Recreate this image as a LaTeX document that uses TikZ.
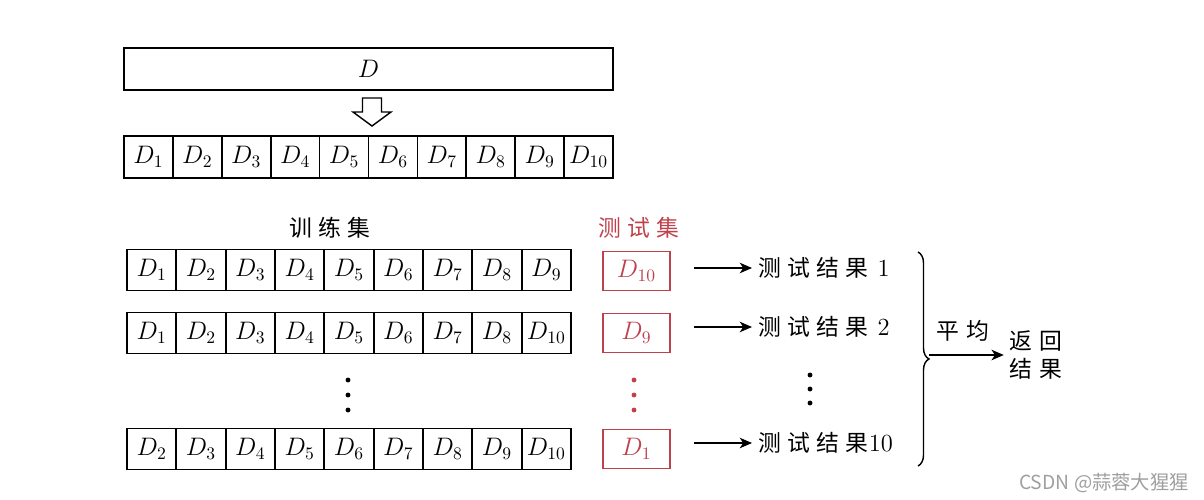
\documentclass[tikz,border=0pt]{standalone}
\usepackage{fontspec}
\newfontfamily\cjk[LetterSpace=28]{Noto Sans CJK SC}
\newfontfamily\wmfont{Noto Sans CJK SC}
\usetikzlibrary{arrows.meta,decorations.pathreplacing}
\definecolor{testred}{RGB}{190,65,75}
\tikzset{
  cell/.style={draw, line width=1pt, minimum height=0.82cm, inner sep=0pt, font=\fontsize{14.4}{16}\selectfont},
  testbox/.style={cell, draw=testred, text=testred, minimum width=1.34cm, minimum height=0.78cm},
  cjklab/.style={font=\fontsize{13}{16}\selectfont\cjk},
  arr/.style={thick, -{Stealth[length=7pt, width=6pt, inset=2pt]}}
}
\begin{document}
\begin{tikzpicture}[x=0.02cm, y=-0.02cm]
    \useasboundingbox (0,0) rectangle (1204,500);

    % Whole data set
    \node[cell, minimum width=9.78cm, minimum height=0.84cm] (whole) at (368.5,69) {$D$};

    % Hollow arrow down
    \draw[thick] (362.5,98) -- (381.5,98) -- (381.5,112) -- (391,112) -- (372,126)
        -- (353,112) -- (362.5,112) -- cycle;

    % Ten folds
    \foreach \i in {1,...,10}
        \node[cell, minimum width=0.978cm, minimum height=0.84cm] (s\i) at ({124+48.9*(\i-0.5)},157) {$D_{\i}$};

    % Headers
    \node[cjklab] (trainlab) at (330,228) {训练集};
    \node[cjklab, text=testred] (testlab) at (639,228) {测试集};

    % Training sets
    \foreach \lab [count=\i] in {1,...,9}
        \node[cell, minimum width=0.987cm] (a\i) at ({127+49.33*(\i-0.5)},270) {$D_{\lab}$};
    \foreach \lab [count=\i] in {1,...,8,10}
        \node[cell, minimum width=0.987cm] (b\i) at ({127+49.33*(\i-0.5)},333) {$D_{\lab}$};
    \foreach \lab [count=\i] in {2,...,10}
        \node[cell, minimum width=0.987cm] (c\i) at ({127+49.33*(\i-0.5)},449) {$D_{\lab}$};

    % Test sets
    \node[testbox] (ta) at (636.5,271) {$D_{10}$};
    \node[testbox] (tb) at (636.5,333) {$D_{9}$};
    \node[testbox] (tc) at (636.5,449) {$D_{1}$};

    % Results
    \node[cjklab, anchor=west] (ra) at (752,268) {测试结果\hspace{5pt}{\rmfamily\fontsize{14}{15}\selectfont 1}};
    \node[cjklab, anchor=west] (rb) at (752,327) {测试结果\hspace{5pt}{\rmfamily\fontsize{14}{15}\selectfont 2}};
    \node[cjklab, anchor=west] (rc) at (752,443) {测试结果{\rmfamily\fontsize{14}{15}\selectfont 10}};

    \draw[arr, shorten <=0.46cm] (ta.east |- ra.west) -- (ra.west);
    \draw[arr, shorten <=0.46cm] (tb.east |- rb.west) -- (rb.west);
    \draw[arr, shorten <=0.46cm] (tc.east |- rc.west) -- (rc.west);

    % Dots
    \foreach \y in {380,395,410} {
        \fill (348,\y) circle (1.4pt);
        \fill[testred] (634,\y) circle (1.4pt);
    }
    \foreach \y in {375,389,403}
        \fill (810,\y) circle (1.4pt);

    % Brace and average
    \coordinate (bt) at (918,252);
    \coordinate (bb) at (918,466);
    \draw[thick, decorate, decoration={brace, amplitude=0.22cm}] (bt) -- (bb);
    \coordinate (bm) at (929,355);
    \node[cjklab, align=center] (ret) at (1036,355) {返回\\结果};
    \node[cjklab] (avg) at (963,331) {平均};
    \draw[arr] (bm) -- (ret.west);

    % Watermark
    \node[font=\fontsize{11}{13}\selectfont\wmfont, text=gray!75] (wm) at (1104,483) {CSDN @蒜蓉大猩猩};
\end{tikzpicture}
\end{document}
